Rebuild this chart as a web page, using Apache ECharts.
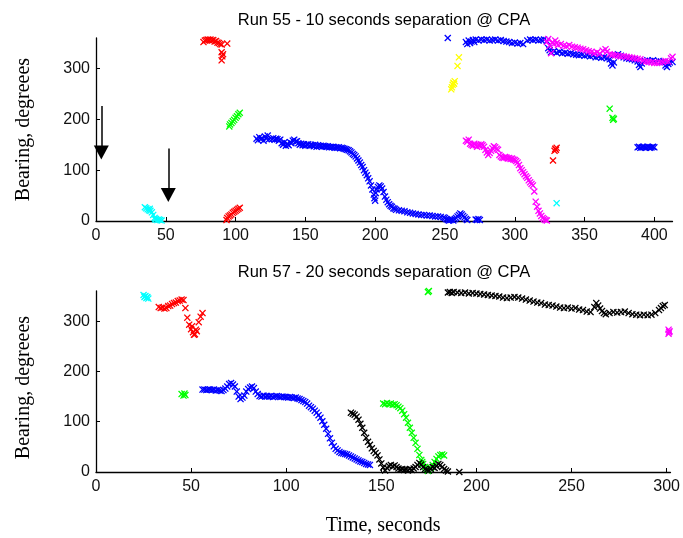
<!DOCTYPE html>
<html>
<head>
<meta charset="utf-8">
<script src="https://cdn.jsdelivr.net/npm/echarts@6/dist/echarts.min.js"></script>
<style>html,body{margin:0;padding:0;background:#fff}#c{width:683px;height:538px}</style>
</head>
<body>
<div id="c"></div>
<script>
// ---------- Data: Run 55 ----------
const title55 = 'Run 55 - 10 seconds separation @ CPA';
const title57 = 'Run 57 - 20 seconds separation @ CPA';
const xTicks55 = [0, 50, 100, 150, 200, 250, 300, 350, 400];
const xTicks57 = [0, 50, 100, 150, 200, 250, 300];
const yTicks = [0, 100, 200, 300];
const xMax55 = 413, xMax57 = 302, yMax = 360;

const r55_cyan = [[35,27],[36,25],[37,23],[38,21],[38.5,24],[39,20],[40,17],[41,12],[42,6],[42.5,3],[43,4],[44,2],[45,3],[46,2],[47,1],[330,35]];
const r55_red = [[77,352],[78,355],[79,356],[80,357],[81,356],[82,357],[83,355],[84,356],[85,353],[86,354],[87,351],[88,350],[89,348],[90,347],[94,349],[90,332],[91,328],[90.5,324],[90,316],
  [93.5,2],[94,6],[95,9],[96,11],[97,13],[98,16],[99,18],[100,20],[101,22],[102,24],[103,26],
  [327.4,119],[328.5,138],[329,142],[330,144],[329.5,140]];
const r55_green = [[95.5,186],[96,190],[97,193],[98,196],[99,199],[100,203],[101,206],[102,210],[103,213],[368,221],[370,203],[370.5,199],[371,201]];
const r55_yellow = [[254.5,259],[255,263],[255.5,268],[256,272],[257,275],[256.5,270],[259,305],[260,322]];
const r55_blue = [[115,162],[116,159],[117,165],[118,161],[119,163],[120,158],[121,166],[122,162],[123,168],[124,161],
  [126,161],[127,163],[128,160],[129,162],[130,161],[131,158],[132,160],[133,153],[134,150],[135,155],[136,148],[137,152],[138,149],[139,155],[140,153],[141,158],[142,160],[143,156],[144,157],[145,153],[146,150],[147,152],[148,149],[149,151],[150,148],[151,150],[152,151],[153,148],[154,150],[155,149],[156,147],[157,150],[158,146],[159,149],[160,147],[161,148],[162,146],[163,148],[164,147],[165,146],[166,147],[167,145],[168,146],[169,145],[170,146],[171,144],[172,145],[173,144],[174,145],[175,143],[176,144],[177,143],[178,142],[179,141],[180,140],[181,139],[182,137],[183,135],[184,132],[185,130],[186,127],[187,123],[188,119],[189,115],[190,110],[191,106],[192,100],[193,95],[194,90],[195,84],[196,78],[197,70],[198,62],[199,52],[199.5,45],[200,40],[200.5,55],[201,62],[202,67],[203,70],[204,68],[205,64],[206,57],[207,48],[208,42],[209,37],[210,33],[211,30],[212,28],[213,25],[214,24],[215,22],[217,21],[219,20],[221,19],[223,17],[225,16],[227,15],[229,14],[231,13],[233,12],[235,12],[237,11],[239,11],[241,10],[243,9],[245,9],[247,8],[249,7],[250,6],[251,4],[252,2],[253,1],[254,2],[255,3],[256,1],[257,4],[258,6],[259,9],[260,12],[261,15],[262,13],[263,10],[264,7],[265,4],[266,2],[272,3],[273,2],[274,4],[275,2],
  [252,360],[265,352],[266,348],[267,355],[268,350],[269,353],[270,356],[271,352],[272,357],[274,355],[276,357],[278,356],[280,357],[282,355],[284,356],[286,357],[288,355],[290,356],[292,354],[294,353],[296,352],[298,350],[300,351],[302,349],[304,350],[306,348],[309,355],[311,357],[313,356],[315,357],[317,355],[319,356],[321,357],[323,354],
  [324,340],[325,336],[326,332],[328,334],[330,331],[332,333],[334,330],[336,331],[338,329],[340,330],[342,328],[344,327],[346,326],[348,327],[350,325],[352,326],[354,324],[356,325],[358,322],[360,323],[362,321],[364,322],[366,320],[368,318],[369,310],[370,306],[371,312],[372,326],[374,328],[376,325],[378,322],[380,320],[382,319],[384,318],[386,316],[388,314],[389,307],[390,303],[391,310],[393,315],[395,316],[397,315],[399,316],[401,314],[403,315],[405,313],[407,313],[408,306],[409,303],[410,309],[411,312],[413,313],
  [388,145],[389,146],[390,144],[391,145],[392,146],[393,145],[394,144],[395,146],[396,145],[397,144],[398,145],[399,146],[400,145]];
const r55_magenta = [[323,352],[324,358],[325,345],[326,330],[327,352],[328,348],[329,355],[330,350],[331,346],[333,348],[335,345],[337,344],[339,346],[341,343],[343,342],[345,341],[347,339],[349,338],[351,336],[353,334],[355,333],[357,330],[359,332],[361,329],[363,335],[365,338],[366,333],[368,328],[370,327],[372,326],[374,325],[376,324],[378,324],[380,323],[382,322],[384,321],[386,320],[388,319],[390,318],[392,315],[394,314],[396,313],[398,312],[400,311],[402,311],[404,312],[406,313],[408,315],[410,314],[412,320],[413,323],
  [265,158],[266,156],[267,160],[268,152],[269,150],[270,148],[271,152],[272,149],[273,146],[274,150],[275,148],[276,151],[277,149],[278,146],[279,140],[280,135],[281,130],[282,134],[283,138],[284,143],[285,147],[286,145],[287,142],[288,140],[289,130],[290,127],[291,125],[292,124],[293,126],[294,125],[295,123],[296,124],[297,122],[298,123],[299,121],[300,120],[301,118],[302,115],[303,110],[304,104],[305,100],[306,96],[307,92],[308,88],[309,85],[310,80],[311,76],[312,73],[313,70],[314,58],[315,38],[316,28],[317,20],[318,15],[319,10],[320,6],[321,4],[322,2],[323,1]];
// arrows: [x, yFrom, yTip]
const arrows55 = [[3.8, 226, 121], [51.8, 142.5, 37.4]];

// ---------- Data: Run 57 ----------
const r57_cyan = [[25,352],[25.5,348],[26,350],[26.5,346],[27,348],[27.5,345]];
const r57_red = [[33,328],[34,326],[35,327],[36,325],[37,326],[38,330],[39,331],[40,334],[41,336],[42,337],[43,340],[44,341],[45,343],[46,342],[47,326],[48,307],[49,293],[50,284],[51,278],[52,274],[53,280],[54,298],[55,309],[56,316],[50.5,290],[52.5,283],[51.5,273]];
const r57_green = [[45,155],[46,152],[46.5,156],[47,153],
  [151,136],[152,135],[153,137],[154,135],[155,136],[156,134],[157,135],[158,133],[159,130],[160,127],[161,122],[162,115],[163,108],[164,98],[165,88],[166,78],[167,68],[168,58],[169,46],[170,34],[171,24],[171.5,20],[172,16],[173,10],[174,6],[174.5,2],[175,4],[176,8],[177,14],[178,20],[179,26],[180,31],[181,34],[182,35],[183,33],[174.5,358],[175,360]];
const r57_blue = [[56,164],[57,164],[58,163],[59,164],[60,164],[61,163],[62,164],[63,162],[64,163],[65,162],[66,161],[67,163],[68,166],[69,170],[70,175],[71,177],[72,174],[73,170],[74,160],[75,150],[76,145],[77,148],[78,152],[79,160],[80,165],[81,168],[82,170],[83,167],[84,160],[85,155],[86,151],[87,150],[88,152],[89,150],[90,151],[91,150],[92,151],[93,149],[94,150],[95,151],[96,150],[97,149],[98,150],[99,149],[100,149],[101,148],[102,149],[103,148],[104,147],[105,148],[106,146],[107,145],[108,143],[109,141],[110,139],[111,136],[112,132],[113,129],[114,126],[115,122],[116,118],[117,113],[118,108],[119,101],[120,94],[121,86],[122,76],[123,67],[124,58],[125,51],[126,46],[127,43],[128,40],[129,38],[130,37],[131,36],[132,35],[133,33],[134,31],[135,29],[136,27],[137,25],[138,23],[139,21],[140,20],[141,18],[142,16],[143,15],[144,14]];
const r57_black = [[134,118],[135,116],[136,114],[137,110],[138,104],[139,96],[140,88],[141,78],[142,68],[143,60],[144,54],[145,47],[146,42],[147,38],[148,33],[149,25],[150,17],[151,9],[152,3],
  [153,8],[154,12],[155,14],[156,11],[157,13],[158,10],[159,7],[160,5],[161,6],[162,4],[163,5],[164,3],[165,6],[166,4],[167,7],[168,10],[169,14],[170,18],[171,15],[172,10],[173,6],[174,4],[175,3],[176,6],[177,10],[178,8],[179,12],[180,16],[181,14],[182,10],[183,6],[184,3],[185,1],[191,0],
  [185,357],[186,358],[187,356],[188,358],[190,357],[192,356],[194,357],[196,355],[198,356],[200,355],[202,354],[204,353],[206,352],[208,351],[210,350],[212,349],[214,347],[216,346],[218,347],[220,348],[222,347],[224,345],[226,343],[228,341],[230,339],[232,337],[234,336],[236,333],[238,332],[240,331],[242,329],[244,327],[246,326],[248,327],[250,325],[252,326],[254,323],[256,322],[258,319],[260,318],[262,328],[263,336],[264,331],[265,325],[266,320],[267,316],[268,314],[270,316],[272,318],[274,317],[276,318],[278,319],[280,316],[282,314],[284,313],[286,312],[288,313],[290,312],[292,313],[294,316],[296,322],[297,326],[298,330],[299,332]];
const r57_magenta = [[301,283],[301.3,278],[301,275],[301.5,280]];

// ---------- Chart ----------
const XMARK = 'path://M0,1.3L1.3,0L5,3.7L8.7,0L10,1.3L6.3,5L10,8.7L8.7,10L5,6.3L1.3,10L0,8.7L3.7,5Z';
function sc(data, color, idx, extra) {
  return Object.assign({
    type: 'scatter', xAxisIndex: idx, yAxisIndex: idx, data: data,
    symbol: XMARK, symbolSize: 7, itemStyle: { color: color, opacity: 1 },
    silent: true, animation: false
  }, extra || {});
}
const axisCommon = {
  axisLine: { show: true, onZero: false, lineStyle: { color: '#000', width: 1.3 } },
  axisTick: { show: true, inside: true, length: 4, lineStyle: { color: '#000', width: 1 } },
  splitLine: { show: false },
  axisLabel: { color: '#111', fontFamily: 'Liberation Sans', fontSize: 16 }
};
function xAx(idx, max, ticks, withName) {
  return Object.assign({}, axisCommon, {
    type: 'value', gridIndex: idx, min: 0, max: max, interval: 50,
    axisTick: Object.assign({}, axisCommon.axisTick, { customValues: ticks }),
    axisLabel: Object.assign({}, axisCommon.axisLabel, { customValues: ticks, margin: 7 }),
    name: withName ? 'Time, seconds' : '', nameLocation: 'middle', nameGap: 44,
    nameTextStyle: { fontFamily: 'Liberation Serif', fontSize: 20, color: '#000' }
  });
}
function yAx(idx, pad) {
  return Object.assign({}, axisCommon, {
    type: 'value', gridIndex: idx, min: 0, max: yMax, interval: 100,
    axisTick: Object.assign({}, axisCommon.axisTick, { customValues: yTicks }),
    axisLabel: Object.assign({}, axisCommon.axisLabel, { customValues: yTicks, margin: 6 }),
    name: 'Bearing, degreees', nameLocation: 'middle', nameRotate: 90, nameGap: 62,
    nameTextStyle: { fontFamily: 'Liberation Serif', fontSize: 20, color: '#000', padding: pad }
  });
}
const arrowLines = arrows55.map(a => [{ coord: [a[0], a[1]] }, { coord: [a[0], a[2] + 13.8] }]);

const chart = echarts.init(document.getElementById('c'), null, { renderer: 'canvas' });
chart.setOption({
  backgroundColor: '#fff',
  animation: false,
  title: [
    { text: title55, left: 384, top: 12, textAlign: 'center', padding: 0,
      textStyle: { fontFamily: 'Liberation Sans', fontSize: 16.5, fontWeight: 'normal', color: '#000' } },
    { text: title57, left: 384, top: 264, textAlign: 'center', padding: 0,
      textStyle: { fontFamily: 'Liberation Sans', fontSize: 16.5, fontWeight: 'normal', color: '#000' } }
  ],
  grid: [
    { left: 96, top: 38, right: 10.5, height: 183 },
    { left: 96, top: 291, right: 10.5, height: 181 }
  ],
  xAxis: [xAx(0, xMax55, xTicks55, false), xAx(1, xMax57, xTicks57, true)],
  yAxis: [yAx(0, [0, 0, 0, 0]), yAx(1, [0, 12, 0, 0])],
  series: [
    sc(r55_cyan, '#00ffff', 0),
    sc(r55_red, '#ff0000', 0),
    sc(r55_green, '#00ff00', 0),
    sc(r55_yellow, '#ffff00', 0),
    sc(r55_blue, '#0000ff', 0, {
      markLine: {
        silent: true, animation: false,
        symbol: ['none', 'triangle'], symbolSize: [15, 14],
        label: { show: false },
        lineStyle: { color: '#000', width: 1.5, type: 'solid' },
        emphasis: { disabled: true },
        data: arrowLines
      }
    }),
    sc(r55_magenta, '#ff00ff', 0),
    sc(r57_cyan, '#00ffff', 1),
    sc(r57_red, '#ff0000', 1),
    sc(r57_green, '#00ff00', 1),
    sc(r57_blue, '#0000ff', 1),
    sc(r57_black, '#000000', 1),
    sc(r57_magenta, '#ff00ff', 1)
  ]
});
</script>
</body>
</html>
